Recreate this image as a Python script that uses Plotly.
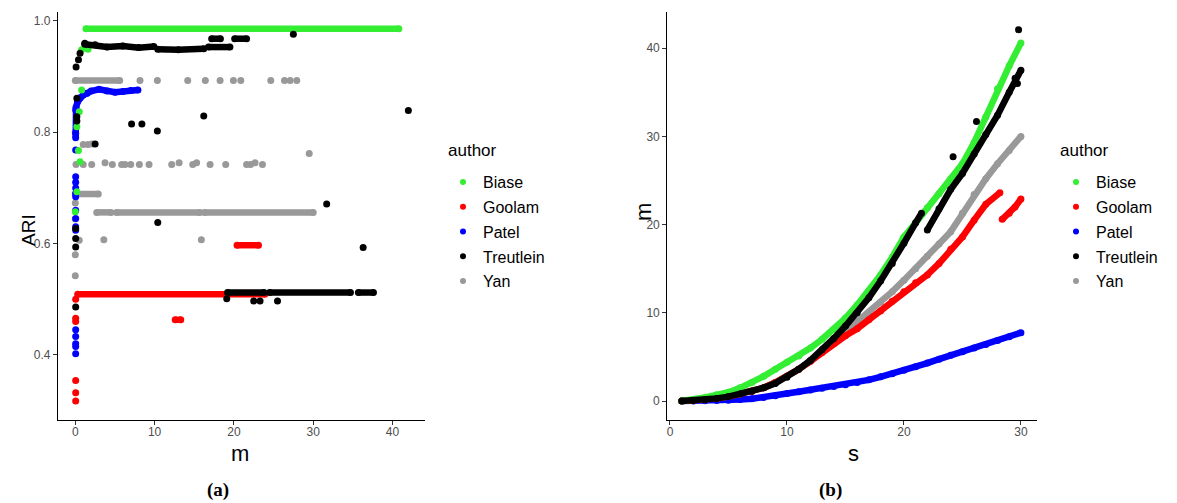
import plotly.graph_objects as go

W, H = 1177, 503

authors = ["Biase", "Goolam", "Patel", "Treutlein", "Yan"]
colors = ["#33ee33", "#ff0000", "#0000ff", "#000000", "#999999"]

# ---------------- panel (a): ARI vs m ----------------
# isolated points
biase_pts_m = [0.0, 0.2, 0.6, 0.4, 0.2, 0.5, 0.8, 0.8, 1.6]
biase_pts_ari = [0.657, 0.693, 0.747, 0.767, 0.81, 0.837, 0.876, 0.948, 0.949]
# dense rows (None separates rows)
biase_row_m = [1.35, 40.8]
biase_row_ari = [0.986, 0.986]

goolam_pts_m = [0.05, 0.05, 0.05, 0.05, 0.05, 0.05]
goolam_pts_ari = [0.50, 0.466, 0.46, 0.354, 0.332, 0.317]
goolam_row_m = [0.3, 23.9, None, 20.4, 23.1, None, 12.6, 13.3]
goolam_row_ari = [0.509, 0.509, None, 0.597, 0.597, None, 0.463, 0.463]

patel_pts_m = [0.05, 0.05, 0.05, 0.05, 0.05, 0.05, 0.05, 0.05, 0.05, 0.05, 0.05,
               0.05, 0.05, 0.05, 0.05, 0.05]
patel_pts_ari = [0.798, 0.768, 0.72, 0.71, 0.70, 0.69, 0.684, 0.66, 0.645, 0.63,
                 0.624, 0.445, 0.433, 0.42, 0.415, 0.402]
patel_row_m = [0.05, 0.05, 0.1, 0.3, 0.6, 1.0, 1.5, 2.0, 3.0, 4.0, 5.0, 6.0, 7.0, 7.9]
patel_row_ari = [0.79, 0.84, 0.845, 0.855, 0.862, 0.867, 0.870, 0.874, 0.877, 0.874,
                 0.872, 0.873, 0.875, 0.876]

treut_pts_m = [0.1, 0.4, 0.6, 1.2, 0.2, 0.2, 0.2, 2.5, 7.1, 8.4, 10.35, 16.2, 27.5,
               42.0, 31.7, 10.4, 0.05, 0.05, 0.05, 36.3, 0.05, 19.1, 22.5, 23.3, 25.5]
treut_pts_ari = [0.917, 0.93, 0.942, 0.96, 0.861, 0.828, 0.82, 0.779, 0.815, 0.815,
                 0.802, 0.829, 0.976, 0.839, 0.671, 0.638, 0.627, 0.609, 0.594, 0.593,
                 0.486, 0.501, 0.497, 0.497, 0.497]
treut_row_m = [1.2, 2.5, 4.0, 6.0, 8.0, 9.9, None, 10.4, 13.0, 16.2, None, 16.8, 19.5,
               None, 17.2, 18.3, None, 20.1, 21.6, None, 19.2, 23.8, None, 24.5, 34.7,
               None, 35.7, 37.6]
treut_row_ari = [0.958, 0.957, 0.953, 0.955, 0.952, 0.954, None, 0.949, 0.948, 0.950,
                 None, 0.953, 0.953, None, 0.968, 0.968, None, 0.968, 0.968, None,
                 0.512, 0.512, None, 0.512, 0.512, None, 0.512, 0.512]

yan_pts_m = [8.16, 10.35, 14.18, 16.4, 18.26, 19.94, 20.87, 24.65, 26.38, 27.09, 27.93,
             0.09, 1.0, 2.07, 3.75, 4.67, 5.85, 6.27, 6.99, 8.08, 9.3, 12.16, 13.09,
             14.81, 15.3, 17.0, 18.97, 21.6, 22.1, 22.67, 23.6,
             1.0, 1.6, 2.1, 29.5, 0.5, 3.6, 15.9, 0.0, 0.0, 0.0, 0.0, 0.0]
yan_pts_ari = [0.893, 0.893, 0.893, 0.893, 0.893, 0.893, 0.893, 0.893, 0.893, 0.893, 0.893,
               0.742, 0.742, 0.742, 0.745, 0.742, 0.742, 0.742, 0.742, 0.742, 0.742, 0.742,
               0.745, 0.742, 0.745, 0.742, 0.742, 0.742, 0.742, 0.745, 0.742,
               0.778, 0.778, 0.779, 0.762, 0.606, 0.607, 0.607, 0.80, 0.673, 0.644, 0.58,
               0.542]
yan_row_m = [0.0, 5.6, None, 0.0, 2.9, None, 2.7, 4.5, None, 5.2, 15.7, None, 16.3, 30.0]
yan_row_ari = [0.893, 0.893, None, 0.689, 0.689, None, 0.656, 0.656, None, 0.656, 0.656,
               None, 0.656, 0.656]

# ---------------- panel (b): m vs s ----------------
biase_s = list(range(1, 31))
biase_m = [0.0, 0.15, 0.4, 0.7, 1.0, 1.5, 2.1, 2.8, 3.6, 4.4, 5.1, 6.0, 7.0, 8.1, 9.4,
           10.9, 12.5, 14.3, 16.3, 18.6, 20.2, 21.9, 23.5, 25.2, 26.9, 29.3, 32.2, 35.4,
           38.0, 40.6]

goolam_s = list(range(1, 28)) + [28.2, None, 28.4, 29.0, 29.5, 30.0]
goolam_m = [0.0, 0.05, 0.15, 0.3, 0.5, 0.8, 1.1, 1.5, 2.1, 2.8, 3.6, 4.5, 5.5, 6.5, 7.4,
            8.2, 9.2, 10.2, 11.3, 12.4, 13.4, 14.3, 15.6, 17.2, 18.6, 20.5, 22.3, 23.6,
            None, 20.6, 21.3, 22.0, 22.9]

patel_s = list(range(1, 31))
patel_m = [0.0, 0.01, 0.03, 0.06, 0.1, 0.17, 0.26, 0.4, 0.6, 0.85, 1.05, 1.25, 1.45, 1.65,
           1.85, 2.1, 2.4, 2.75, 3.1, 3.5, 3.9, 4.3, 4.75, 5.2, 5.6, 6.0, 6.4, 6.85, 7.3,
           7.75]

treut_s = list(range(1, 22)) + [21.5, None] + list(range(22, 31))
treut_m = [0.0, 0.05, 0.15, 0.3, 0.5, 0.8, 1.1, 1.5, 2.0, 2.7, 3.6, 4.6, 5.8, 7.1, 8.5,
           10.0, 11.7, 13.6, 15.6, 17.9, 20.2, 21.3, None,
           19.4, 21.8, 24.0, 25.8, 28.0, 30.2, 32.4, 35.0, 37.5]
treut_out_s = [24.2, 26.2, 29.5, 29.7, 29.8]
treut_out_m = [27.7, 31.7, 36.6, 36.0, 42.1]

yan_s = list(range(1, 31))
yan_m = [0.0, 0.05, 0.15, 0.3, 0.5, 0.8, 1.1, 1.5, 2.1, 2.8, 3.6, 4.5, 5.6, 6.8, 7.9,
         8.9, 10.0, 11.2, 12.4, 13.7, 15.0, 16.4, 17.8, 19.2, 21.3, 23.4, 25.2, 26.9,
         28.4, 30.0]

# ticks
a_xticks = [0, 10, 20, 30, 40]
a_yticks = [0.4, 0.6, 0.8, 1.0]
b_xticks = [0, 10, 20, 30]
b_yticks = [0, 10, 20, 30, 40]

MS = 7
LW = 6.5

fig = go.Figure()

col = dict(zip(authors, colors))

def add_rows(x, y, c, xa, ya):
    fig.add_trace(go.Scatter(x=x, y=y, mode="lines+markers",
                             line=dict(color=c, width=LW),
                             marker=dict(color=c, size=MS),
                             showlegend=False, hoverinfo="skip",
                             xaxis=xa, yaxis=ya))

def add_pts(x, y, c, xa, ya):
    fig.add_trace(go.Scatter(x=x, y=y, mode="markers",
                             marker=dict(color=c, size=MS),
                             showlegend=False, hoverinfo="skip",
                             xaxis=xa, yaxis=ya))

# panel a drawing order
panel_a = [
    ("Yan", yan_row_m, yan_row_ari, yan_pts_m, yan_pts_ari),
    ("Patel", patel_row_m, patel_row_ari, patel_pts_m, patel_pts_ari),
    ("Goolam", goolam_row_m, goolam_row_ari, goolam_pts_m, goolam_pts_ari),
    ("Biase", biase_row_m, biase_row_ari, biase_pts_m, biase_pts_ari),
    ("Treutlein", treut_row_m, treut_row_ari, treut_pts_m, treut_pts_ari),
]
for name, rm, ra, pm, pa in panel_a:
    add_rows(rm, ra, col[name], "x", "y")
    add_pts(pm, pa, col[name], "x", "y")

panel_b = [
    ("Patel", patel_s, patel_m),
    ("Yan", yan_s, yan_m),
    ("Goolam", goolam_s, goolam_m),
    ("Biase", biase_s, biase_m),
    ("Treutlein", treut_s, treut_m),
]
for name, s, m in panel_b:
    add_rows(s, m, col[name], "x2", "y2")
add_pts(treut_out_s, treut_out_m, col["Treutlein"], "x2", "y2")

# legend entries
for i, name in enumerate(authors):
    for lg, xa, ya in (("legend", "x", "y"), ("legend2", "x2", "y2")):
        fig.add_trace(go.Scatter(x=[None], y=[None], mode="markers", name=name,
                                 marker=dict(color=col[name], size=6),
                                 legend=lg, legendgroup=lg + name,
                                 xaxis=xa, yaxis=ya))

tickfont = dict(family="Liberation Sans, Arial", size=12, color="#4d4d4d")
axis_common = dict(showline=True, linecolor="black", linewidth=1.3, mirror=False,
                   ticks="outside", ticklen=4, tickwidth=1, tickcolor="#333333",
                   showgrid=False, zeroline=False, tickfont=tickfont)

ydom = [1 - 420 / H, 1 - 12 / H]
legfont = dict(family="Liberation Sans, Arial", size=16, color="black")
fig.update_layout(
    width=W, height=H,
    margin=dict(l=0, r=0, t=0, b=0),
    paper_bgcolor="white", plot_bgcolor="white",
    xaxis=dict(domain=[58 / W, 425 / W], range=[-2.18, 44.1], tickvals=a_xticks,
               anchor="y", ticklabelstandoff=-4, **axis_common),
    yaxis=dict(domain=ydom, range=[0.283, 1.016], tickvals=a_yticks,
               ticktext=["0.4", "0.6", "0.8", "1.0"], anchor="x", **axis_common),
    xaxis2=dict(domain=[667.3 / W, 1037.3 / W], range=[-0.23, 31.4], tickvals=b_xticks,
                anchor="y2", ticklabelstandoff=-4, **axis_common),
    yaxis2=dict(domain=ydom, range=[-2.15, 44.1], tickvals=b_yticks, anchor="x2",
                **axis_common),
    legend=dict(x=443 / W, y=1 - 165 / H, xanchor="left", yanchor="top",
                font=legfont, tracegroupgap=1, bgcolor="rgba(0,0,0,0)"),
    legend2=dict(x=1056 / W, y=1 - 165 / H, xanchor="left", yanchor="top",
                 font=legfont, tracegroupgap=1, bgcolor="rgba(0,0,0,0)"),
    font=dict(family="Liberation Sans, Arial", color="black"),
)

def ann(text, px, py, size, angle=0, family="Liberation Sans, Arial", bold=False,
        xanchor="center"):
    fig.add_annotation(text=("<b>%s</b>" % text) if bold else text,
                       x=px / W, y=1 - py / H, xref="paper", yref="paper",
                       showarrow=False, xanchor=xanchor, yanchor="middle",
                       textangle=angle, font=dict(family=family, size=size, color="black"))

ann("ARI", 28, 230, 19, -90)
ann("m", 240, 453, 22)
ann("m", 643, 212, 22, -90)
ann("s", 853, 453, 22)
ann("author", 446, 150, 17, xanchor="left")
ann("author", 1058, 150, 17, xanchor="left")
ann("(a)", 218, 490, 19, family="Liberation Serif, Times New Roman", bold=True)
ann("(b)", 830, 490, 19, family="Liberation Serif, Times New Roman", bold=True)

fig.write_html("out.html")
